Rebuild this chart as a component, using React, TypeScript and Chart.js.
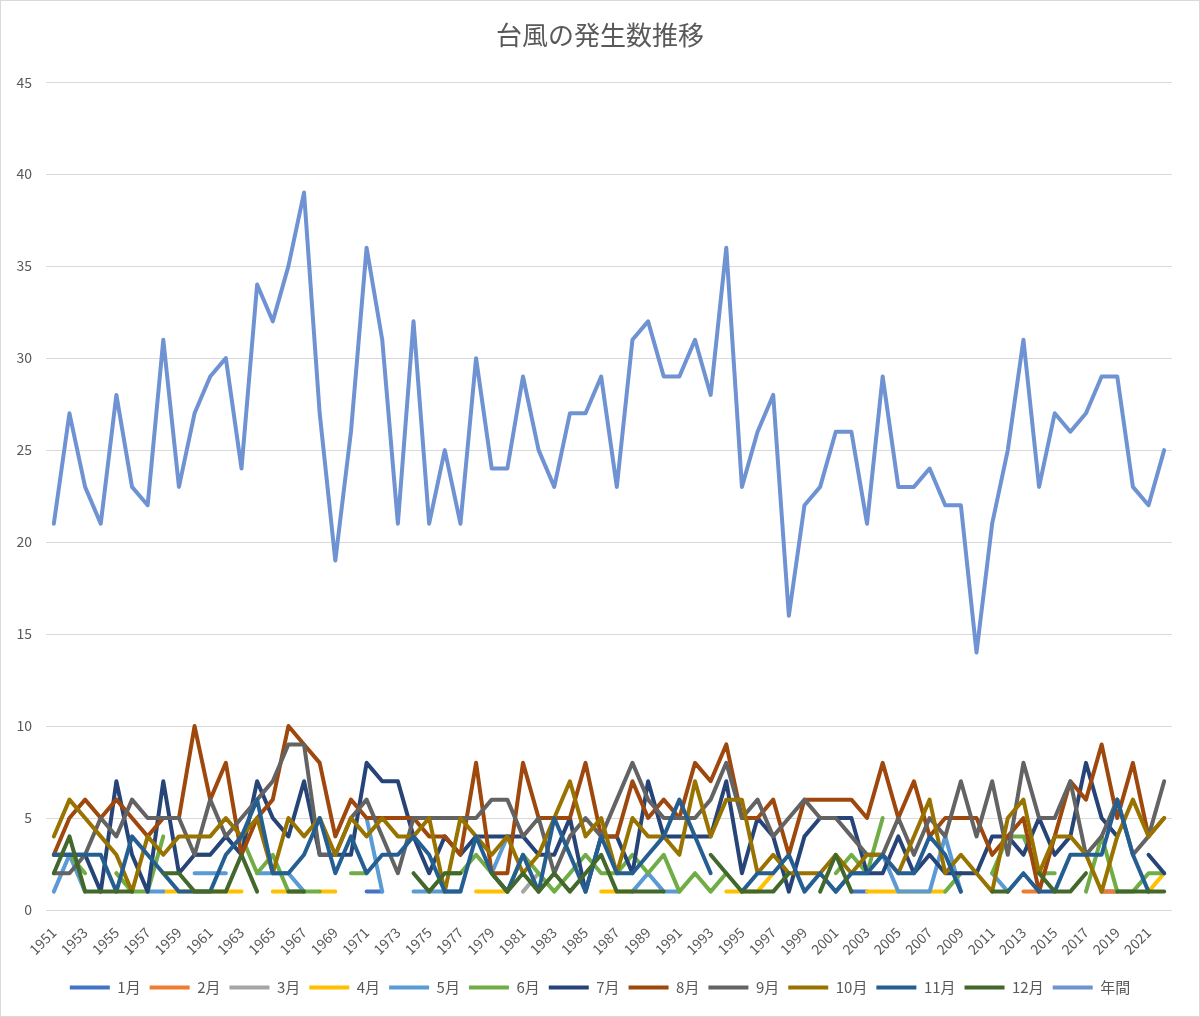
import { useEffect, useRef } from "react";
import { Chart, registerables, ChartConfiguration, Plugin } from "chart.js";

Chart.register(...registerables);

const n = null;

const years = [
  "1951", "1952", "1953", "1954", "1955", "1956", "1957", "1958", "1959", "1960",
  "1961", "1962", "1963", "1964", "1965", "1966", "1967", "1968", "1969", "1970",
  "1971", "1972", "1973", "1974", "1975", "1976", "1977", "1978", "1979", "1980",
  "1981", "1982", "1983", "1984", "1985", "1986", "1987", "1988", "1989", "1990",
  "1991", "1992", "1993", "1994", "1995", "1996", "1997", "1998", "1999", "2000",
  "2001", "2002", "2003", "2004", "2005", "2006", "2007", "2008", "2009", "2010",
  "2011", "2012", "2013", "2014", "2015", "2016", "2017", "2018", "2019", "2020",
  "2021", "2022",
];

// monthly counts (blank = no typhoon that month)
const jan = [
  n, n, n, n, n, n, n, n, n, n,
  n, n, n, n, n, n, n, n, n, n,
  1, 1, n, n, n, n, n, n, n, n,
  n, n, n, n, n, n, n, n, n, n,
  n, n, n, n, n, n, n, n, n, n,
  n, 1, 1, n, n, n, n, n, n, n,
  n, n, n, n, n, n, n, 1, 1, n,
  n, n,
];
const feb = [
  n, n, n, n, n, n, n, n, n, n,
  n, n, n, n, n, n, n, n, n, n,
  n, n, n, n, n, n, n, n, n, n,
  n, n, n, n, n, n, n, n, n, n,
  n, n, n, n, n, n, n, n, n, n,
  n, n, n, n, n, n, n, n, n, n,
  n, n, 1, 1, n, n, n, 1, 1, n,
  n, n,
];
const mar = [
  n, n, n, n, n, n, n, n, n, n,
  n, n, n, n, n, n, n, n, n, n,
  n, n, n, n, n, n, n, n, n, n,
  1, 2, n, n, n, n, n, n, n, n,
  n, n, n, n, n, n, n, n, n, n,
  n, n, n, n, n, n, n, n, n, n,
  n, n, n, n, n, n, n, n, n, n,
  n, n,
];
const apr = [
  n, n, n, n, 2, 1, n, 1, 1, 1,
  1, 1, 1, n, 1, 1, n, 1, 1, n,
  n, n, n, n, n, n, n, 1, 1, 1,
  n, n, n, n, n, 1, 1, 1, n, n,
  n, n, n, 1, 1, 1, 2, n, n, n,
  n, n, 1, 1, 1, 1, 1, 1, n, n,
  n, n, n, n, n, n, n, n, n, n,
  1, 2,
];
const may = [
  1, 3, 1, n, n, n, 1, 1, n, 2,
  2, 2, n, 2, 2, 2, 1, n, n, n,
  5, 1, n, 1, 1, 1, 1, n, 2, 4,
  n, n, n, n, n, n, n, 1, 2, 1,
  1, n, n, n, n, n, n, n, n, n,
  1, 2, 2, 3, 1, 1, 1, 4, 1, n,
  2, 1, n, n, n, n, n, n, n, n,
  n, n,
];
const jun = [
  n, 3, 2, n, 2, 1, 1, 4, n, 3,
  3, n, 4, 2, 3, 1, 1, 1, n, 2,
  2, n, n, n, n, 2, 2, 3, 2, 1,
  3, 2, 1, 2, 3, 2, 2, 3, 2, 3,
  1, 2, 1, 2, n, n, n, n, n, n,
  2, 3, 2, 5, n, n, n, 1, 2, n,
  2, 4, 4, 2, 2, n, 1, 4, 1, 1,
  2, 2,
];
const jul = [
  3, 3, 3, 1, 7, 3, 1, 7, 2, 3,
  3, 4, 3, 7, 5, 4, 7, 3, 3, 3,
  8, 7, 7, 4, 2, 4, 3, 4, 4, 4,
  4, 3, 3, 5, 1, 4, 4, 2, 7, 4,
  4, 4, 4, 7, 2, 5, 4, 1, 4, 5,
  5, 5, 2, 2, 4, 2, 3, 2, 2, 2,
  4, 4, 3, 5, 3, 4, 8, 5, 4, n,
  3, 2,
];
const aug = [
  3, 5, 6, 5, 6, 5, 4, 5, 5, 10,
  6, 8, 3, 5, 6, 10, 9, 8, 4, 6,
  5, 5, 5, 5, 4, 4, 3, 8, 2, 2,
  8, 5, 5, 5, 8, 4, 4, 7, 5, 6,
  5, 8, 7, 9, 5, 5, 6, 3, 6, 6,
  6, 6, 5, 8, 5, 7, 4, 5, 5, 5,
  3, 4, 5, 1, 4, 7, 6, 9, 5, 8,
  4, 5,
];
const sep = [
  2, 2, 3, 5, 4, 6, 5, 5, 5, 3,
  6, 4, 5, 6, 7, 9, 9, 3, 3, 5,
  6, 4, 2, 5, 5, 5, 5, 5, 6, 6,
  4, 5, 2, 4, 5, 4, 6, 8, 6, 5,
  5, 5, 6, 8, 5, 6, 4, 5, 6, 5,
  5, 4, 3, 3, 5, 3, 5, 4, 7, 4,
  7, 3, 8, 5, 5, 7, 3, 4, 6, 3,
  4, 7,
];
const oct = [
  4, 6, 5, 4, 3, 1, 4, 3, 4, 4,
  4, 5, 4, 5, 2, 5, 4, 5, 3, 5,
  4, 5, 4, 4, 5, 1, 5, 4, 3, 4,
  2, 3, 5, 7, 4, 5, 2, 5, 4, 4,
  3, 7, 4, 6, 6, 2, 3, 2, 2, 2,
  3, 2, 3, 3, 2, 4, 6, 2, 3, 2,
  1, 5, 6, 2, 4, 4, 3, 1, 4, 6,
  4, 5,
];
const nov = [
  3, 3, 3, 3, 1, 4, 3, 2, 1, 1,
  1, 3, 4, 6, 2, 2, 3, 5, 2, 4,
  2, 3, 3, 4, 3, 1, 1, 4, 2, 1,
  3, 1, 5, 3, 1, 4, 2, 2, 3, 4,
  6, 4, 2, n, 1, 2, 2, 3, 1, 2,
  1, 2, 2, 3, 2, 2, 4, 3, 1, n,
  n, 1, 2, 1, 1, 3, 3, 3, 6, 3,
  1, n,
];
const dec = [
  2, 4, 1, 1, 1, 1, n, 2, 2, 1,
  1, 1, 3, 1, n, 1, 1, n, n, n,
  n, n, n, 2, 1, 2, 2, n, 2, 1,
  2, 1, 2, 1, 2, 3, 1, 1, 1, 1,
  n, n, 3, 2, 1, 1, 1, 2, n, 1,
  3, 1, n, n, n, n, n, n, n, n,
  1, 1, n, 2, 1, 1, 2, n, 1, 1,
  1, 1,
];
const annual = [
  21, 27, 23, 21, 28, 23, 22, 31, 23, 27,
  29, 30, 24, 34, 32, 35, 39, 27, 19, 26,
  36, 31, 21, 32, 21, 25, 21, 30, 24, 24,
  29, 25, 23, 27, 27, 29, 23, 31, 32, 29,
  29, 31, 28, 36, 23, 26, 28, 16, 22, 23,
  26, 26, 21, 29, 23, 23, 24, 22, 22, 14,
  21, 25, 31, 23, 27, 26, 27, 29, 29, 23,
  22, 25,
];

const seriesNames = ["1月", "2月", "3月", "4月", "5月", "6月", "7月", "8月", "9月", "10月", "11月", "12月", "年間"];
const seriesData = [jan, feb, mar, apr, may, jun, jul, aug, sep, oct, nov, dec, annual];
const seriesColors = [
  "#4472C4", "#ED7D31", "#A5A5A5", "#FFC000", "#5B9BD5", "#70AD47",
  "#264478", "#9E480E", "#636363", "#997300", "#255E91", "#43682B", "#6E92D2",
];

const FONT = '"Noto Sans CJK JP", "Noto Sans", sans-serif';

// white background + thin frame like the Excel chart area
const framePlugin: Plugin<"line"> = {
  id: "frame",
  beforeDraw(chart) {
    const { ctx, width, height } = chart;
    ctx.save();
    ctx.fillStyle = "#ffffff";
    ctx.fillRect(0, 0, width, height);
    ctx.strokeStyle = "#d9d9d9";
    ctx.lineWidth = 1;
    ctx.strokeRect(0.5, 0.5, width - 1, height - 1);
    ctx.restore();
  },
};

export default function App() {
  const canvasRef = useRef<HTMLCanvasElement | null>(null);

  useEffect(() => {
    if (!canvasRef.current) return;
    const ctx = canvasRef.current.getContext("2d");
    if (!ctx) return;

    const config: ChartConfiguration<"line"> = {
      type: "line",
      data: {
        labels: years,
        datasets: seriesNames.map((name, i) => ({
          label: name,
          data: seriesData[i],
          borderColor: seriesColors[i],
          backgroundColor: seriesColors[i],
          borderWidth: 4,
          borderJoinStyle: "round",
          borderCapStyle: "round",
          pointRadius: 0,
          pointHoverRadius: 0,
          tension: 0,
          spanGaps: false,
          order: seriesNames.length - i, // later series drawn on top
        })),
      },
      options: {
        responsive: true,
        maintainAspectRatio: false,
        animation: false,
        layout: { padding: { left: 0, right: 0, top: 0, bottom: 12 } },
        plugins: {
          title: {
            display: true,
            text: "台風の発生数推移",
            color: "#595959",
            font: { family: FONT, size: 26, weight: "normal" },
            padding: { top: 20, bottom: 31 },
          },
          legend: {
            position: "bottom",
            labels: {
              usePointStyle: true,
              pointStyle: "line",
              pointStyleWidth: 40,
              color: "#595959",
              font: { family: FONT, size: 15 },
              padding: 9,
              sort: (a, b) => (a.datasetIndex ?? 0) - (b.datasetIndex ?? 0),
            },
          },
          tooltip: { enabled: false },
        },
        scales: {
          x: {
            type: "category",
            offset: true,
            grid: { display: false },
            border: { display: false },
            ticks: {
              autoSkip: false,
              minRotation: 45,
              maxRotation: 45,
              color: "#595959",
              font: { family: FONT, size: 14 },
              padding: 6,
              callback: (_v, i) => (i % 2 === 0 ? years[i] : ""),
            },
            afterFit: (scale) => {
              scale.height = 61;
            },
          },
          y: {
            min: 0,
            max: 45,
            ticks: {
              stepSize: 5,
              color: "#595959",
              font: { family: FONT, size: 14 },
              padding: 14,
            },
            grid: { color: "#d9d9d9", lineWidth: 1, drawTicks: false },
            border: { display: false },
            afterFit: (scale) => {
              scale.width = 46;
            },
          },
          // empty right-hand spacer so title and legend stay centred on the page
          spacer: {
            type: "linear",
            position: "right",
            display: true,
            grid: { display: false, drawTicks: false },
            border: { display: false },
            ticks: { display: false },
            afterFit: (scale) => {
              scale.width = 28;
            },
          },
        },
      },
      plugins: [framePlugin],
    };

    const chart = new Chart(ctx, config);
    return () => {
      chart.destroy();
    };
  }, []);

  return (
    <div style={{ position: "absolute", left: 0, top: 0, width: 1200, height: 1017, background: "#fff" }}>
      <canvas ref={canvasRef}></canvas>
    </div>
  );
}
